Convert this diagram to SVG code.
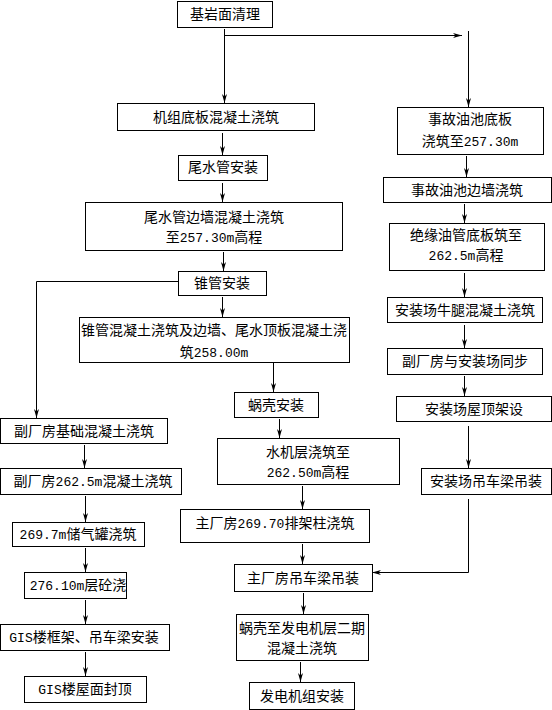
<svg xmlns="http://www.w3.org/2000/svg" width="552" height="710" viewBox="0 0 552 710">
<style>
rect{fill:#fff;stroke:#000;stroke-width:1}
text{font-family:"Noto Sans CJK SC","Noto Sans",sans-serif;font-size:14px;fill:#000;text-anchor:middle}
.d{font-family:"Liberation Mono",monospace;font-size:13px}
.c{fill:none;stroke:#000;stroke-width:1}
</style>
<defs>
<marker id="ah" viewBox="0 0 9 6" markerWidth="9" markerHeight="6" refX="9" refY="3" orient="auto" markerUnits="userSpaceOnUse"><path d="M0,0.5 L9,3 L0,5.5 L2.5,3 z" fill="#000"/></marker>
</defs>
<g id="connectors">
<path class="c" d="M224.5,29 V103" marker-end="url(#ah)"/>
<path class="c" d="M224.5,35.5 H462" marker-end="url(#ah)"/>
<path class="c" d="M468.5,31 V107" marker-end="url(#ah)"/>
<path class="c" d="M222.5,133 V155" marker-end="url(#ah)"/>
<path class="c" d="M222.5,183 V202" marker-end="url(#ah)"/>
<path class="c" d="M223.5,252 V271" marker-end="url(#ah)"/>
<path class="c" d="M222.5,297 V317" marker-end="url(#ah)"/>
<path class="c" d="M178,281.5 H36.5 V418" marker-end="url(#ah)"/>
<path class="c" d="M273.5,362 V392" marker-end="url(#ah)"/>
<path class="c" d="M279.5,419 V438" marker-end="url(#ah)"/>
<path class="c" d="M302.5,486 V509" marker-end="url(#ah)"/>
<path class="c" d="M302.5,544 V564" marker-end="url(#ah)"/>
<path class="c" d="M303.5,593 V614" marker-end="url(#ah)"/>
<path class="c" d="M300.5,662 V682" marker-end="url(#ah)"/>
<path class="c" d="M84.5,445 V468" marker-end="url(#ah)"/>
<path class="c" d="M85.5,496 V522" marker-end="url(#ah)"/>
<path class="c" d="M85.5,548 V572" marker-end="url(#ah)"/>
<path class="c" d="M85.5,600 V624" marker-end="url(#ah)"/>
<path class="c" d="M85.5,652 V676" marker-end="url(#ah)"/>
<path class="c" d="M466.5,156 V177" marker-end="url(#ah)"/>
<path class="c" d="M464.5,204 V223" marker-end="url(#ah)"/>
<path class="c" d="M464.5,273 V297" marker-end="url(#ah)"/>
<path class="c" d="M464.5,325 V348" marker-end="url(#ah)"/>
<path class="c" d="M464.5,376 V396" marker-end="url(#ah)"/>
<path class="c" d="M468.5,426 V468" marker-end="url(#ah)"/>
<path class="c" d="M468.5,499 V572.5 H372" marker-end="url(#ah)"/>
</g>
<g id="n1"><rect x="177.5" y="1.5" width="95" height="26"/><text x="225" y="19">基岩面清理</text></g>
<g id="n2"><rect x="117.5" y="103.5" width="197" height="27"/><text x="216" y="122">机组底板混凝土浇筑</text></g>
<g id="n3"><rect x="178.5" y="155.5" width="89" height="25"/><text x="223" y="172">尾水管安装</text></g>
<g id="n4"><rect x="85.5" y="202.5" width="257" height="48"/><text x="214" y="222">尾水管边墙混凝土浇筑</text><text x="214" y="242">至<tspan class="d">257.30m</tspan>高程</text></g>
<g id="n5"><rect x="178.5" y="271.5" width="88" height="24"/><text x="222" y="288">锥管安装</text></g>
<g id="n6"><rect x="79.5" y="317.5" width="270" height="45"/><text x="81" y="335" style="text-anchor:start" textLength="266" lengthAdjust="spacing">锥管混凝土浇筑及边墙、尾水顶板混凝土浇</text><text x="214" y="357">筑<tspan class="d">258.00m</tspan></text></g>
<g id="n7"><rect x="234.5" y="392.5" width="84" height="25"/><text x="276" y="410">蜗壳安装</text></g>
<g id="n8"><rect x="217.5" y="438.5" width="182" height="46"/><text x="308" y="457">水机层浇筑至</text><text x="308" y="477"><tspan class="d">262.50m</tspan>高程</text></g>
<g id="n9"><rect x="180.5" y="509.5" width="189" height="33"/><text x="275" y="528">主厂房<tspan class="d">269.70</tspan>排架柱浇筑</text></g>
<g id="n10"><rect x="234.5" y="564.5" width="138" height="27"/><text x="303" y="583">主厂房吊车梁吊装</text></g>
<g id="n11"><rect x="236.5" y="614.5" width="132" height="46"/><text x="302" y="633">蜗壳至发电机层二期</text><text x="302" y="653">混凝土浇筑</text></g>
<g id="n12"><rect x="249.5" y="682.5" width="105" height="27"/><text x="302" y="701">发电机组安装</text></g>
<g id="l1"><rect x="0.5" y="418.5" width="167" height="25"/><text x="84" y="436">副厂房基础混凝土浇筑</text></g>
<g id="l2"><rect x="0.5" y="468.5" width="181" height="26"/><text x="93" y="486">副厂房<tspan class="d">262.5m</tspan>混凝土浇筑</text></g>
<g id="l3"><rect x="12.5" y="522.5" width="132" height="24"/><text x="78" y="539"><tspan class="d">269.7m</tspan>储气罐浇筑</text></g>
<g id="l4"><rect x="24.5" y="572.5" width="102" height="26"/><text x="78" y="590"><tspan class="d">276.10m</tspan>层砼浇</text></g>
<g id="l5"><rect x="0.5" y="624.5" width="169" height="26"/><text x="84" y="642"><tspan class="d">GIS</tspan>楼框架、吊车梁安装</text></g>
<g id="l6"><rect x="24.5" y="676.5" width="122" height="26"/><text x="85" y="694"><tspan class="d">GIS</tspan>楼屋面封顶</text></g>
<g id="r1"><rect x="397.5" y="107.5" width="146" height="47"/><text x="470" y="124">事故油池底板</text><text x="470" y="146">浇筑至<tspan class="d">257.30m</tspan></text></g>
<g id="r2"><rect x="383.5" y="177.5" width="168" height="25"/><text x="467" y="195">事故油池边墙浇筑</text></g>
<g id="r3"><rect x="389.5" y="223.5" width="155" height="47"/><text x="466" y="240">绝缘油管底板筑至</text><text x="466" y="260"><tspan class="d">262.5m</tspan>高程</text></g>
<g id="r4"><rect x="387.5" y="297.5" width="155" height="25"/><text x="465" y="315">安装场牛腿混凝土浇筑</text></g>
<g id="r5"><rect x="387.5" y="348.5" width="155" height="26"/><text x="465" y="366">副厂房与安装场同步</text></g>
<g id="r6"><rect x="396.5" y="396.5" width="155" height="25"/><text x="474" y="414">安装场屋顶架设</text></g>
<g id="r7"><rect x="421.5" y="468.5" width="130" height="26"/><text x="486" y="486">安装场吊车梁吊装</text></g>
</svg>
